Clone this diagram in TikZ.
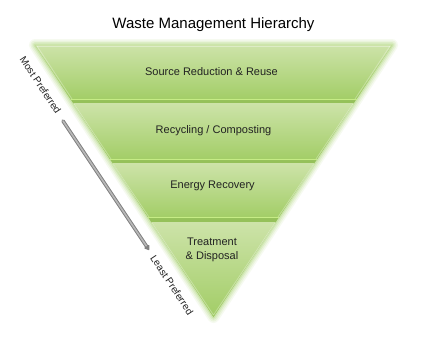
\documentclass[tikz,border=0pt]{standalone}
\usepackage{fontspec}
\setmainfont{Liberation Sans}
\usetikzlibrary{arrows.meta}
\definecolor{bandtop}{HTML}{CDE3A9}
\definecolor{bandbot}{HTML}{A2CD66}
\definecolor{bandline}{HTML}{C6EC86}
\definecolor{gapcol}{HTML}{95C15A}
\definecolor{glowcol}{HTML}{B5DA85}
\definecolor{txt}{HTML}{222222}
\definecolor{arrowedge}{HTML}{808080}
\definecolor{arrowfill}{HTML}{B8B8B8}
\tikzset{
  band/.style={top color=bandtop, bottom color=bandbot, draw=none},
  hilite/.style={draw=bandline, line width=1.6bp},
  bandtext/.style={font=\fontsize{11bp}{14bp}\selectfont, text=txt, align=center, inner sep=0pt},
  sidetext/.style={font=\fontsize{10bp}{12bp}\selectfont, text=txt, inner sep=0pt},
  glow/.style={draw=glowcol, line join=round, fill=none}
}
\begin{document}
\begin{tikzpicture}[x=1bp,y=-1bp]
\useasboundingbox[fill=white] (0,0) rectangle (427,341);
% glow
\foreach \w/\o in {12/0.12, 9/0.18, 6/0.25, 3/0.4}{
  \draw[glow, line width=\w bp, opacity=\o] (35,45) -- (392,45) -- (213.5,317) -- cycle;
}
% base
\fill[gapcol] (35,45) -- (392,45) -- (213.5,317) -- cycle;
% bands
\shade[band] (35,45) -- (392,45) -- (355.9,100) -- (71.1,100) -- cycle;
\shade[band] (73.1,103) -- (353.9,103) -- (316.5,160) -- (110.5,160) -- cycle;
\shade[band] (112.4,163) -- (314.6,163) -- (278.5,218) -- (148.5,218) -- cycle;
\shade[band] (151.2,222) -- (275.8,222) -- (213.5,317) -- cycle;
% top edge highlight
\draw[draw=white, opacity=0.35, line width=1bp] (37,46) -- (390,46);
% bottom highlights
\draw[hilite] (70.5,99.3) -- (356.5,99.3);
\draw[hilite] (110,159.3) -- (317,159.3);
\draw[hilite] (148,217.3) -- (279,217.3);
% side bevels
\draw[white, opacity=0.3, line width=0.8bp] (37,46) -- (72,99) (74,104) -- (111,159) (113,164) -- (149,217) (152,223) -- (213.5,315);
\draw[white, opacity=0.3, line width=0.8bp] (390,46) -- (355,99) (353,104) -- (316,159) (314,164) -- (278,217) (275,223) -- (213.5,315);
% title
\node[font=\fontsize{15bp}{18bp}\selectfont, text=black, inner sep=0pt] (title) at (213.5,25) {Waste Management Hierarchy};
% band texts
\node[bandtext] (b1) at (211.5,72) {Source Reduction \& Reuse};
\node[bandtext] (b2) at (213.5,131) {Recycling / Composting};
\node[bandtext] (b3) at (212.5,186) {Energy Recovery};
\node[bandtext] (b4) at (212,250) {Treatment\\\& Disposal};
% side labels
\node[sidetext, rotate=-56.5] (most) at (40.5,85) {Most Preferred};
\node[sidetext, rotate=-56.5] (least) at (172,285) {Least Preferred};
% arrow
\coordinate (as) at (63,121);
\coordinate (ae) at (149,250);
\draw[draw=arrowedge, line width=3.6bp, line cap=round, -{Triangle[length=5bp,width=6.5bp,round]}] (as) -- (ae);
\draw[draw=arrowfill, line width=1.6bp, line cap=round, shorten >=5bp] (as) -- (ae);
\end{tikzpicture}
\end{document}
